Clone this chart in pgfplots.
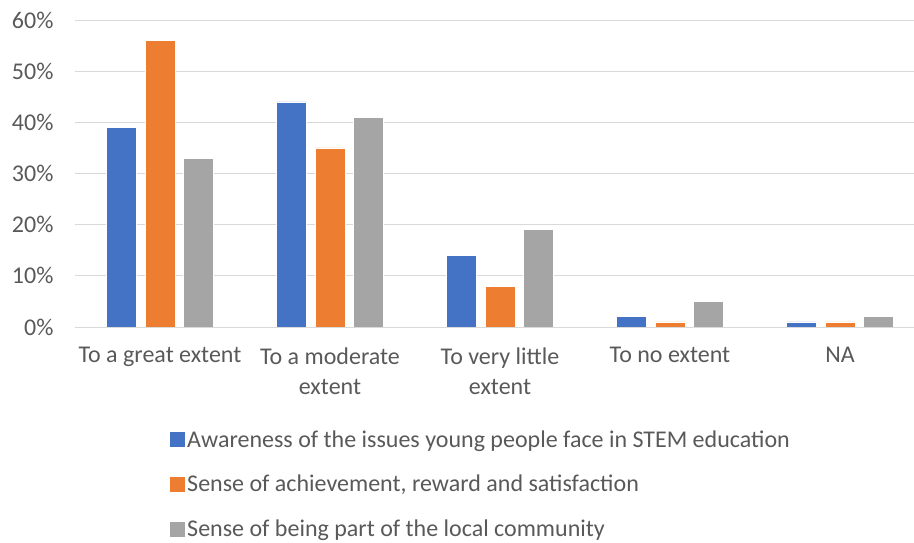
\documentclass[border=0pt]{standalone}
\usepackage{fontspec}
\setmainfont{Carlito}
\usepackage{pgfplots}
\pgfplotsset{compat=1.18}

\definecolor{sblue}{HTML}{4472C4}
\definecolor{sorange}{HTML}{ED7D31}
\definecolor{sgray}{HTML}{A5A5A5}
\definecolor{textgray}{HTML}{595959}
\definecolor{gridgray}{HTML}{D9D9D9}

\begin{document}
\begin{tikzpicture}
\useasboundingbox (-75pt,-216pt) rectangle (839pt,327pt);
\begin{axis}[
  at={(0pt,0pt)}, anchor=south west,
  scale only axis, width=839pt, height=307pt,
  xmin=-0.5, xmax=4.4353, ymin=0, ymax=60,
  axis line style={draw=none},
  major tick length=0pt,
  xtick={0,1,2,3,4},
  xticklabels={To a great extent, To a moderate\\extent, To very little\\extent, To no extent, NA},
  xticklabel style={align=center, font=\fontsize{24}{30}\selectfont, text=textgray, anchor=north, yshift=-17pt},
  ytick={0,10,...,60},
  yticklabel={\pgfmathprintnumber{\tick}\%},
  yticklabel style={font=\fontsize{24}{30}\selectfont, text=textgray, anchor=east, xshift=-18pt},
  /pgf/number format/assume math mode=true,
  ymajorgrids,
  grid style={color=gridgray, line width=0.9pt},
  legend cell align=left,
  legend style={
    at={(axis description cs:0.1097,-0.324)}, anchor=north west,
    draw=none, fill=none,
    font=\fontsize{24}{30}\selectfont, text=textgray,
    row sep=22.5pt,
    /tikz/every odd column/.append style={column sep=0pt},
  },
  legend image code/.code={\fill[#1,draw=none] (0pt,-7.5pt) rectangle (15pt,7.5pt);},
]
% Awareness of the issues young people face in STEM education
\addplot[ybar, bar width=0.176, bar shift=-0.226, fill=sblue, draw=white, line width=0.6pt]
  coordinates {(0,39) (1,44) (2,14) (3,2) (4,1)};
% Sense of achievement, reward and satisfaction
\addplot[ybar, bar width=0.176, bar shift=0, fill=sorange, draw=white, line width=0.6pt]
  coordinates {(0,56) (1,35) (2,8) (3,1) (4,1)};
% Sense of being part of the local community
\addplot[ybar, bar width=0.176, bar shift=0.226, fill=sgray, draw=white, line width=0.6pt]
  coordinates {(0,33) (1,41) (2,19) (3,5) (4,2)};
\legend{Awareness of the issues young people face in STEM education,
        {Sense of achievement, reward and satisfaction},
        Sense of being part of the local community}
\end{axis}
\end{tikzpicture}
\end{document}
